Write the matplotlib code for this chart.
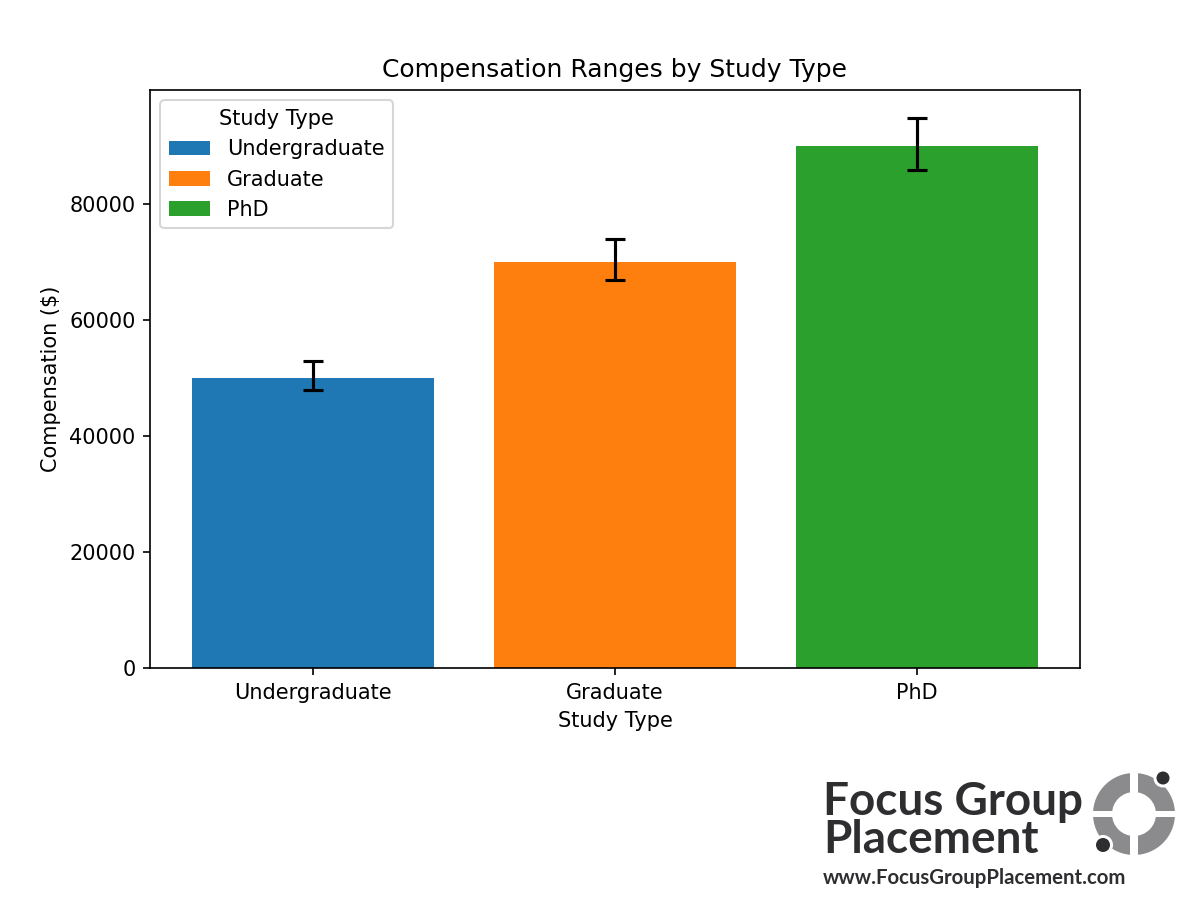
import numpy as np
import matplotlib
matplotlib.use("Agg")
import matplotlib.pyplot as plt
from matplotlib.patches import Wedge, Circle, Rectangle

study_types = ["Undergraduate", "Graduate", "PhD"]
avg_comp = [50000, 70000, 90000]
min_comp = [48000, 67000, 86000]
max_comp = [53000, 74000, 95000]
colors = ["#1f77b4", "#ff7f0e", "#2ca02c"]

W, H = 1200, 911
fig = plt.figure(figsize=(W / 150, H / 150), dpi=150)
ax = fig.add_axes([150 / W, 1 - 668 / H, (1080 - 150) / W, (668 - 90) / H])

lower = np.array(avg_comp) - np.array(min_comp)
upper = np.array(max_comp) - np.array(avg_comp)
x = np.arange(len(study_types))
for i, name in enumerate(study_types):
    ax.bar(x[i], avg_comp[i], color=colors[i], label=name,
           yerr=[[lower[i]], [upper[i]]], capsize=5,
           error_kw=dict(elinewidth=1.5, capthick=1.5, ecolor="black"))

ax.set_xticks(x)
ax.set_xticklabels(study_types)
ax.set_xlabel("Study Type")
ax.set_ylabel("Compensation ($)")
ax.set_title("Compensation Ranges by Study Type", fontsize=12)
ax.legend(title="Study Type", loc="upper left")

# logo overlay in pixel coordinates
lax = fig.add_axes([0, 0, 1, 1])
lax.set_xlim(0, W)
lax.set_ylim(H, 0)
lax.axis("off")
dark = "#2e2e31"
gray = "#8b8b8d"
lax.text(823, 815, "Focus Group", fontsize=22, fontweight="bold",
         family="Lato", color=dark, va="baseline", ha="left")
lax.text(823, 853, "Placement", fontsize=22, fontweight="bold",
         family="Lato", color=dark, va="baseline", ha="left")
lax.text(823, 884, "www.FocusGroupPlacement.com", fontsize=9.8, fontweight="bold",
         family="Lato", color=dark, va="baseline", ha="left")

cx, cy = 1134, 814
r_out, r_in = 41, 22
for t1, t2 in [(0, 90), (90, 180), (180, 270), (270, 360)]:
    lax.add_patch(Wedge((cx, cy), r_out, t1, t2, width=r_out - r_in,
                        facecolor=gray, edgecolor="none"))
lax.add_patch(Rectangle((cx - 4, cy - r_out - 2), 8, 2 * r_out + 4,
                        facecolor="white", edgecolor="none"))
lax.add_patch(Rectangle((cx - r_out - 2, cy - 3), 2 * r_out + 4, 6,
                        facecolor="white", edgecolor="none"))
lax.add_patch(Circle((1163, 778), 9.5, facecolor="white", edgecolor="none"))
lax.add_patch(Circle((1163, 778), 6.5, facecolor=dark, edgecolor="none"))
lax.add_patch(Circle((1103, 845), 10, facecolor="white", edgecolor="none"))
lax.add_patch(Circle((1103, 845), 7, facecolor=dark, edgecolor="none"))

fig.savefig("out.png", dpi=150)
